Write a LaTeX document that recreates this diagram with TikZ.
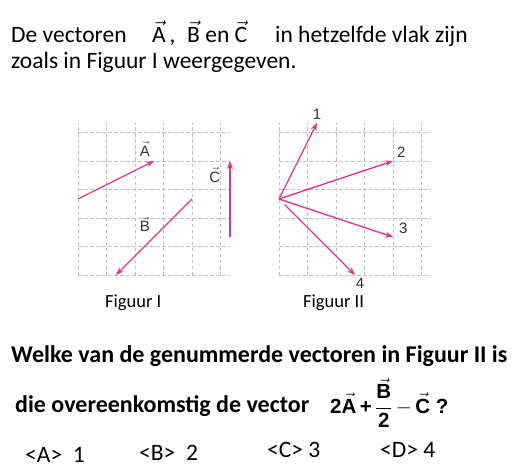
\documentclass[tikz,border=0pt]{standalone}
\usepackage{fontspec}
\setmainfont{Carlito}
\newfontfamily\figfont{Liberation Sans}
\usetikzlibrary{arrows.meta}

\definecolor{pijlkleur}{RGB}{228,50,145}
\newcommand{\vekt}[1]{\ensuremath{\vec{\hbox{#1}}}}

\tikzset{
  tekst/.style={anchor=base west, inner sep=0pt, font=\fontsize{23.5}{27}\selectfont},
  vet/.style={anchor=base west, inner sep=0pt, font=\fontsize{24}{28}\selectfont\bfseries},
  rooster/.style={gray!50, line width=0.6pt, dash pattern=on 3.5pt off 2.5pt},
  vector/.style={pijlkleur, line width=1.3pt, -{Stealth[length=8pt,width=6pt]}},
  label/.style={font=\figfont\fontsize{15}{17}\selectfont, text=black!80}
}

\begin{document}
\begin{tikzpicture}[x=1pt,y=-1pt]
\useasboundingbox (0,0) rectangle (522,476);

% vraag bovenaan
\node[tekst] (zin1) at (11,43) {De vectoren};
\node[tekst] (zinA) at (152,43) {\vekt{A}\,,};
\node[tekst] (zinB) at (187,43) {\vekt{B} en \vekt{C}};
\node[tekst] (zin1b) at (275,43) {in hetzelfde vlak zijn};
\node[tekst] (zin2) at (11,69) {zoals in Figuur I weergegeven.};

% Figuur I
\begin{scope}[shift={(78,275)}, x=38pt, y=38pt]
  \draw[rooster] (0,0) grid (4,4);
  \coordinate (a0) at (0,2);
  \coordinate (a1) at (2,3);
  \coordinate (b0) at (3,2);
  \coordinate (b1) at (1,0);
  \coordinate (c0) at (4,1);
  \coordinate (c1) at (4,3);
  \draw[vector] (a0) -- (a1);
  \draw[vector] (b0) -- (b1);
  \draw[vector] (c0) -- (c1);
  \node[label] (lA) at (1.76,3.32) {\vekt{A}};
  \node[label] (lB) at (1.76,1.34) {\vekt{B}};
  \node[label] (lC) at (3.6,2.63) {\vekt{C}};
\end{scope}
\node[tekst, font=\fontsize{18.5}{21}\selectfont] (fig1) at (105,307) {Figuur I};

% Figuur II
\begin{scope}[shift={(279,275)}, x=38pt, y=38pt]
  \draw[rooster] (0,0) grid (4,4);
  \coordinate (o) at (0,2);
  \coordinate (p1) at (1,4);
  \coordinate (p2) at (3,3);
  \coordinate (p3) at (3,1);
  \coordinate (p4) at (2,0);
  \draw[vector] (o) -- (p1);
  \draw[vector] (o) -- (p2);
  \draw[vector] (o) -- (p3);
  \draw[vector, shorten <=8pt] (o) -- (p4);
  \node[label] (n1) at (1.0,4.22) {1};
  \node[label] (n2) at (3.22,3.24) {2};
  \node[label] (n3) at (3.27,1.24) {3};
  \node[label] (n4) at (2.13,-0.22) {4};
\end{scope}
\node[tekst, font=\fontsize{18.5}{21}\selectfont] (fig2) at (303,307) {Figuur II};

% vraag onderaan
\node[vet] (vraag1) at (11,362) {Welke van de genummerde vectoren in Figuur II is};
\node[vet] (vraag2) at (15,412) {die overeenkomstig de vector};
\node[anchor=base west, inner sep=0pt, font=\figfont\bfseries\fontsize{20.5}{23}\selectfont] (formule) at (330,413)
  {2\vekt{A}\,+\,$\displaystyle\frac{\vekt{B}}{\hbox{2}}$\,$-$\,\vekt{C} ?};

% antwoorden
\node[tekst] (antA) at (25,462) {<A>\ \ 1};
\node[tekst] (antB) at (139,460) {<B>\ \ 2};
\node[tekst] (antC) at (267,457) {<C> 3};
\node[tekst] (antD) at (380,457) {<D> 4};

\end{tikzpicture}
\end{document}
